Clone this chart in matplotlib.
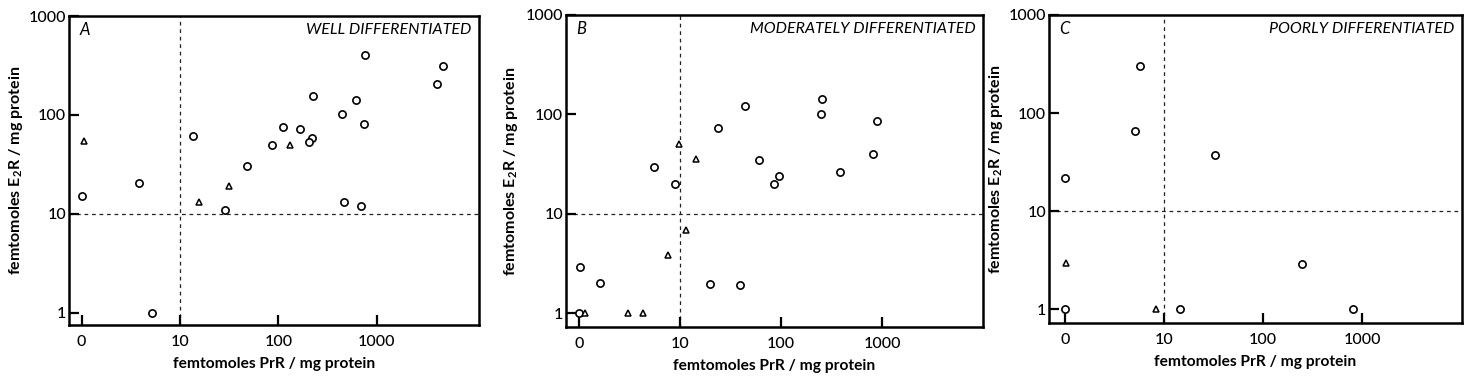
import matplotlib
matplotlib.use("Agg")
import matplotlib.pyplot as plt
from matplotlib.ticker import FixedLocator, NullLocator

plt.rcParams['font.family'] = ['Lato', 'DejaVu Sans']
plt.rcParams['mathtext.default'] = 'regular'

# x value 1 on the log axis is shown as "0"
x_ticks = [1, 10, 100, 1000]
x_ticklabels = ["0", "10", "100", "1000"]
y_ticks = [1, 10, 100, 1000]
y_ticklabels = ["1", "10", "100", "1000"]

panel_letters = ["A", "B", "C"]
panel_titles = ["WELL DIFFERENTIATED", "MODERATELY DIFFERENTIATED", "POORLY DIFFERENTIATED"]

# Panel A
a_circle_x = [1.0, 3.83, 5.15, 13.7, 28.5, 47.6, 86.2, 111, 166, 222, 207, 223, 448, 465, 611, 693, 749, 761, 4074, 4764]
a_circle_y = [15, 20.4, 1.0, 60.7, 11.0, 30.1, 49.6, 76.2, 71.5, 58.4, 53.6, 155, 103, 13.1, 143, 12.1, 80.4, 400, 206, 312]
a_tri_x = [1.06, 15.6, 31.8, 130]
a_tri_y = [54, 13, 19.3, 49.2]

# Panel B
b_circle_x = [1.03, 1.0, 1.61, 5.57, 8.9, 19.6, 23.9, 39.2, 44.3, 60, 85, 95.5, 247, 255, 386, 813, 891]
b_circle_y = [2.9, 1.0, 2.02, 29.6, 19.7, 1.96, 72.6, 1.93, 120, 34.8, 19.8, 23.9, 101, 143, 26.4, 39.7, 86.7]
b_tri_x = [1.14, 3.08, 4.33, 7.6, 9.84, 11.5, 14.4]
b_tri_y = [1.0, 1.0, 1.0, 3.8, 50.5, 6.9, 35.4]

# Panel C
c_circle_x = [5.71, 5.13, 1.0, 32.9, 1.0, 14.5, 250, 812]
c_circle_y = [299, 66.3, 21.6, 37.4, 1.0, 1.0, 2.88, 1.0]
c_tri_x = [1.02, 8.41]
c_tri_y = [2.97, 1.0]

panels = [
    (a_circle_x, a_circle_y, a_tri_x, a_tri_y),
    (b_circle_x, b_circle_y, b_tri_x, b_tri_y),
    (c_circle_x, c_circle_y, c_tri_x, c_tri_y),
]

W, H = 1469, 376
fig = plt.figure(figsize=(W / 100, H / 100), dpi=100)

# axes rectangles in pixels: left, top, right, bottom
rects = [(69, 16, 479, 325), (566, 15, 983, 327), (1049, 15, 1462, 323)]
xlims = [(10 ** -0.129, 10 ** 4.04), (10 ** -0.13, 10 ** 4.0), (10 ** -0.16, 10 ** 4.01)]
ylims = [(10 ** -0.125, 1000), (10 ** -0.14, 1000), (10 ** -0.14, 1000)]
ylabel_x = [-0.107, -0.110, -0.107]

for i, (cx, cy, tx, ty) in enumerate(panels):
    l, t, r, b = rects[i]
    ax = fig.add_axes([l / W, (H - b) / H, (r - l) / W, (b - t) / H])
    ax.set_xscale('log')
    ax.set_yscale('log')
    ax.set_xlim(*xlims[i])
    ax.set_ylim(*ylims[i])

    ax.axvline(10, color='#222222', lw=0.9, ls=(0, (3, 3)), zorder=1)
    ax.axhline(10, color='#222222', lw=0.9, ls=(0, (3, 3)), zorder=1)

    ax.plot(cx, cy, ls='none', marker='o', ms=5.2, mfc='white', mec='black', mew=1.2, zorder=3, clip_on=False)
    ax.plot(tx, ty, ls='none', marker='^', ms=4.6, mfc='white', mec='black', mew=1.1, zorder=3, clip_on=False)

    ax.xaxis.set_major_locator(FixedLocator(x_ticks))
    ax.xaxis.set_minor_locator(NullLocator())
    ax.set_xticklabels(x_ticklabels)
    ax.yaxis.set_major_locator(FixedLocator(y_ticks))
    ax.yaxis.set_minor_locator(NullLocator())
    ax.set_yticklabels(y_ticklabels)

    ax.tick_params(axis='both', direction='in', length=7, width=1.6, labelsize=11.5, pad=7)
    ax.tick_params(axis='y', pad=2)
    for lab in ax.get_xticklabels() + ax.get_yticklabels():
        lab.set_fontweight('medium')

    for sp in ax.spines.values():
        sp.set_linewidth(1.8)

    ax.set_xlabel("femtomoles PrR / mg protein", fontsize=11.2, fontweight='bold', labelpad=6)
    ax.set_ylabel("femtomoles E$_2$R / mg protein", fontsize=11.5, fontweight='bold')
    ax.yaxis.set_label_coords(ylabel_x[i], 0.5)

    ax.text(0.025, 0.955, panel_letters[i], transform=ax.transAxes, fontsize=12,
            fontstyle='italic', ha='left', va='center')
    ax.text(0.982, 0.955, panel_titles[i], transform=ax.transAxes, fontsize=11.5,
            fontstyle='italic', ha='right', va='center')

fig.savefig("out.png", dpi=100)
